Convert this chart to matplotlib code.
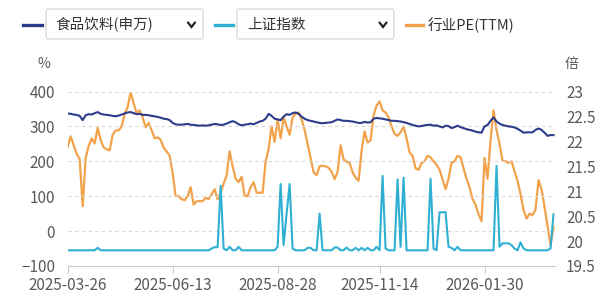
import matplotlib
matplotlib.use("Agg")
import matplotlib.pyplot as plt
from matplotlib.patches import FancyBboxPatch
from matplotlib.lines import Line2D

plt.rcParams["font.family"] = ["Noto Sans CJK SC", "DejaVu Sans"]

# 横轴：交易日序号与日期标签
tick_idx = [0, 35, 70, 104, 139]
tick_labels = ["2025-03-26", "2025-06-13", "2025-08-28", "2025-11-14", "2026-01-30"]

# 食品饮料(申万)，%
food_bev = [
    337, 336, 334, 333, 330, 318, 332, 335, 334, 338,
    341, 336, 334, 333, 332, 330, 329, 331, 334, 337,
    340, 341, 338, 335, 336, 333, 333, 332, 330, 329,
    327, 325, 322, 321, 318, 310, 306, 305, 305, 306,
    307, 305, 304, 303, 302, 303, 302, 303, 305, 307,
    306, 304, 305, 308, 312, 315, 312, 306, 303, 305,
    306, 308, 306, 310, 314, 316, 322, 336, 330, 322,
    320, 318, 328, 335, 333, 338, 340, 336, 328, 322,
    318, 316, 314, 312, 310, 309, 310, 311, 312, 316,
    320, 318, 316, 316, 315, 314, 312, 310, 310, 313,
    311, 312, 322, 324, 323, 322, 320, 318, 316, 316,
    315, 314, 312, 310, 307, 304, 302, 300, 301, 303,
    304, 305, 302, 303, 300, 297, 302, 301, 295, 298,
    302, 298, 295, 292, 290, 288, 285, 283, 282, 300,
    304, 316, 326, 314, 308, 304, 302, 300, 299, 297,
    293, 288, 282, 283, 283, 283, 290, 294, 290, 282,
    273, 275, 275,
]

# 上证指数，%
sh_index = [
    -55, -55, -55, -55, -55, -55, -55, -55, -55, -55,
    -48, -55, -55, -55, -55, -55, -55, -55, -55, -55,
    -55, -55, -55, -55, -55, -55, -55, -55, -55, -55,
    -55, -55, -55, -55, -55, -55, -55, -55, -55, -55,
    -55, -55, -55, -55, -55, -55, -55, -55, -50, -46,
    -46, 130, -50, -55, -45, -55, -55, -45, -55, -55,
    -55, -55, -55, -55, -55, -55, -55, -55, -55, -55,
    -45, 135, -40, 50, 135, -50, -55, -55, -55, -55,
    -48, -48, -55, -55, 50, -55, -55, -55, -55, -47,
    -47, -55, -55, -47, -55, -55, -48, -55, -48, -55,
    -48, -55, -55, -45, -55, 158, -50, -55, -55, -55,
    148, -45, 153, -55, -55, -55, -55, -55, -55, -55,
    -55, 150, -50, -55, 54, 54, 54, -45, -48, -55,
    -45, -55, -55, -55, -55, -55, -55, -55, -55, -55,
    -55, -55, -55, 187, -45, -35, -35, -35, -40, -50,
    -55, -32, -50, -55, -55, -55, -55, -55, -55, -55,
    -55, -50, 48,
]

# 行业PE(TTM)，倍
pe_ttm = [
    21.89, 22.10, 21.92, 21.75, 21.64, 20.70, 21.67, 21.91, 22.06, 21.96,
    22.27, 22.02, 21.88, 21.84, 21.82, 22.13, 22.22, 22.22, 22.30, 22.55,
    22.69, 22.99, 22.76, 22.57, 22.62, 22.48, 22.28, 22.37, 22.22, 22.06,
    22.08, 22.03, 21.87, 21.80, 21.71, 21.36, 20.90, 20.90, 20.84, 20.82,
    20.90, 21.08, 20.73, 20.80, 20.80, 20.80, 20.87, 20.84, 20.94, 21.04,
    20.84, 20.97, 21.15, 21.32, 21.80, 21.50, 21.25, 21.18, 21.29, 20.91,
    20.90, 21.08, 21.18, 20.97, 20.97, 20.97, 21.60, 21.85, 22.30, 21.99,
    22.44, 22.06, 22.48, 22.30, 22.13, 22.48, 22.55, 22.58, 22.44, 22.23,
    21.95, 21.67, 21.38, 21.32, 21.50, 21.51, 21.50, 21.47, 21.39, 21.24,
    21.39, 21.92, 21.64, 21.59, 21.57, 21.38, 21.27, 21.21, 21.81, 22.20,
    21.98, 22.02, 22.52, 22.72, 22.80, 22.62, 22.58, 22.48, 22.30, 22.15,
    22.11, 22.18, 22.30, 22.06, 21.78, 21.71, 21.46, 21.43, 21.57, 21.60,
    21.71, 21.68, 21.60, 21.53, 21.43, 21.24, 21.04, 21.25, 21.57, 21.60,
    21.71, 21.68, 21.46, 21.25, 21.08, 20.84, 20.73, 20.54, 20.40, 21.67,
    21.25, 22.02, 22.62, 22.23, 21.95, 21.61, 21.60, 21.57, 21.60, 21.40,
    21.21, 20.94, 20.63, 20.45, 20.55, 20.52, 20.63, 21.22, 21.04, 20.69,
    20.30, 19.92, 20.27,
]

NAVY = "#2c3c8c"
CYAN = "#2fb0d2"
ORANGE = "#f2a24b"
GREY = "#5a5a5a"

W, H = 600, 300
fig = plt.figure(figsize=(W / 100, H / 100), dpi=100)
ax = fig.add_axes([67.7 / W, 1 - 266 / H, (555 - 67.7) / W, (266 - 91.5) / H])
ax2 = ax.twinx()

x = list(range(len(food_bev)))
ax2.plot(x, pe_ttm, color=ORANGE, lw=1.6, solid_joinstyle="round")
ax.plot(x, sh_index, color=CYAN, lw=1.5, solid_joinstyle="round")
ax.plot(x, food_bev, color=NAVY, lw=1.5, solid_joinstyle="round")
ax.set_zorder(ax2.get_zorder() + 1)
ax.patch.set_visible(False)

ax.set_xlim(0, 162.5)
ax.set_ylim(-100, 400)
ax.set_yticks([-100, 0, 100, 200, 300, 400])
ax2.set_ylim(19.5, 23)
ax2.set_yticks([19.5, 20, 20.5, 21, 21.5, 22, 22.5, 23])
ax2.set_yticklabels(["19.5", "20", "20.5", "21", "21.5", "22", "22.5", "23"])

for y in [0, 100, 200, 300, 400]:
    ax.axhline(y, color="#d9d9d9", lw=0.8, ls=(0, (3, 3)), zorder=0)

ax.set_xticks(tick_idx)
ax.set_xticklabels(tick_labels)
for a in (ax, ax2):
    for s in ("top", "left", "right"):
        a.spines[s].set_visible(False)
    a.spines["bottom"].set_visible(False)
ax.spines["bottom"].set_visible(True)
ax.spines["bottom"].set_color("#c8c8c8")
ax.tick_params(axis="x", length=5, color="#c8c8c8", labelsize=11, labelcolor=GREY, pad=3)
ax.tick_params(axis="y", length=0, labelsize=11, labelcolor=GREY, pad=9)
ax2.tick_params(axis="y", length=0, labelsize=11, labelcolor=GREY, pad=8)

ax.text(-0.035, 1.16, "%", transform=ax.transAxes, ha="right", va="center",
        fontsize=10, color=GREY)
ax2.text(1.02, 1.16, "倍", transform=ax2.transAxes, ha="left", va="center",
         fontsize=10, color=GREY)

# 顶部图例（下拉框样式）
tr = fig.dpi_scale_trans


def p(px, py):
    return px / 100, (H - py) / 100


for bx in (46, 237):
    x0, y0 = p(bx, 39)
    fig.add_artist(FancyBboxPatch((x0, y0), 1.57, 0.30,
                                  boxstyle="round,pad=0,rounding_size=0.02",
                                  transform=tr, facecolor="white",
                                  edgecolor="#d6d6d6", lw=0.9))

for cx in (191.5, 383):
    xs = [cx - 3.5, cx, cx + 3.5]
    ys = [22.5, 27, 22.5]
    pts = [p(a, b) for a, b in zip(xs, ys)]
    fig.add_artist(Line2D([q[0] for q in pts], [q[1] for q in pts], transform=tr,
                          color="#222222", lw=1.6, solid_capstyle="round",
                          solid_joinstyle="miter"))

for (x0, x1, c) in ((23, 42, NAVY), (215, 233, CYAN), (406, 423, ORANGE)):
    a0, b0 = p(x0, 25)
    a1, b1 = p(x1, 25)
    fig.add_artist(Line2D([a0, a1], [b0, b1], transform=tr, color=c, lw=2.4))

for (tx, s) in ((55, "食品饮料(申万)"), (247, "上证指数"), (428, "行业PE(TTM)")):
    a0, b0 = p(tx, 25)
    fig.text(a0, b0, s, transform=tr, ha="left", va="center", fontsize=10.5,
             color="#333333")

fig.savefig("out.png", dpi=100)
